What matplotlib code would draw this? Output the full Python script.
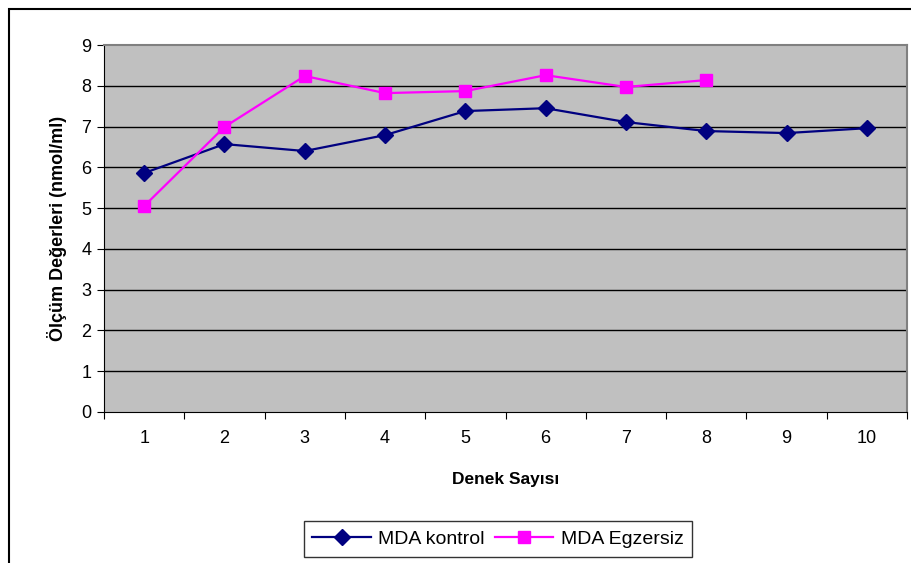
import numpy as np
import matplotlib.pyplot as plt
from matplotlib.patches import Rectangle

plt.rcParams['font.family'] = ['Liberation Sans', 'DejaVu Sans']

denek = [1, 2, 3, 4, 5, 6, 7, 8, 9, 10]
kontrol = [5.86, 6.57, 6.40, 6.79, 7.38, 7.45, 7.11, 6.89, 6.84, 6.96]
egz_denek = [1, 2, 3, 4, 5, 6, 7, 8]
egzersiz = [5.05, 6.99, 8.24, 7.82, 7.87, 8.26, 7.97, 8.14]

fig = plt.figure(figsize=(9.12, 5.63), dpi=100)
ax = fig.add_axes([104/912, 1-412/563, 803/912, 367/563])

ax.set_facecolor('#C0C0C0')
for yv in range(1, 9):
    ax.axhline(yv, color='black', lw=1, zorder=1)

ax.plot(denek, kontrol, color='#000080', marker='D', ms=8, lw=1.6, label='MDA kontrol', zorder=3)
ax.plot(egz_denek, egzersiz, color='#FF00FF', marker='s', ms=8, lw=1.6, label='MDA Egzersiz', zorder=3)

ax.set_xlim(0.5, 10.5)
ax.set_ylim(0, 9)
ax.set_yticks(range(0, 10))
ax.set_xticks(np.arange(0.5, 11, 1))
ax.set_xticklabels([])
ax.set_xticks(denek, minor=True)
ax.set_xticklabels([str(d) for d in denek], minor=True, fontsize=13)
ax.tick_params(axis='x', which='minor', length=0, pad=13)
ax.tick_params(axis='x', which='major', length=5, direction='out', color='black')
ax.tick_params(axis='y', length=5, direction='out', labelsize=13, pad=4)

for s in ['top', 'right']:
    ax.spines[s].set_color('#808080')
    ax.spines[s].set_linewidth(1.5)
ax.spines['left'].set_color('black')
ax.spines['bottom'].set_color('black')

ax.set_xlabel('Denek Sayısı', fontsize=12.5, fontweight='bold', labelpad=18)
ax.set_ylabel('Ölçüm Değerleri (nmol/ml)', fontsize=13, fontweight='bold', labelpad=10)

leg = fig.legend(loc='center', bbox_to_anchor=(498/912, 1-539/563), ncol=2, fontsize=14,
                 frameon=True, fancybox=False, edgecolor='black', handlelength=3,
                 columnspacing=0.5, handletextpad=0.4, borderpad=0.45)
leg.get_frame().set_linewidth(1)

fig.patches.append(Rectangle((9/912, -0.1), 1.2, 1-9/563+0.1, transform=fig.transFigure,
                             fill=False, edgecolor='black', lw=1.5))

fig.savefig('out.png', dpi=100)
